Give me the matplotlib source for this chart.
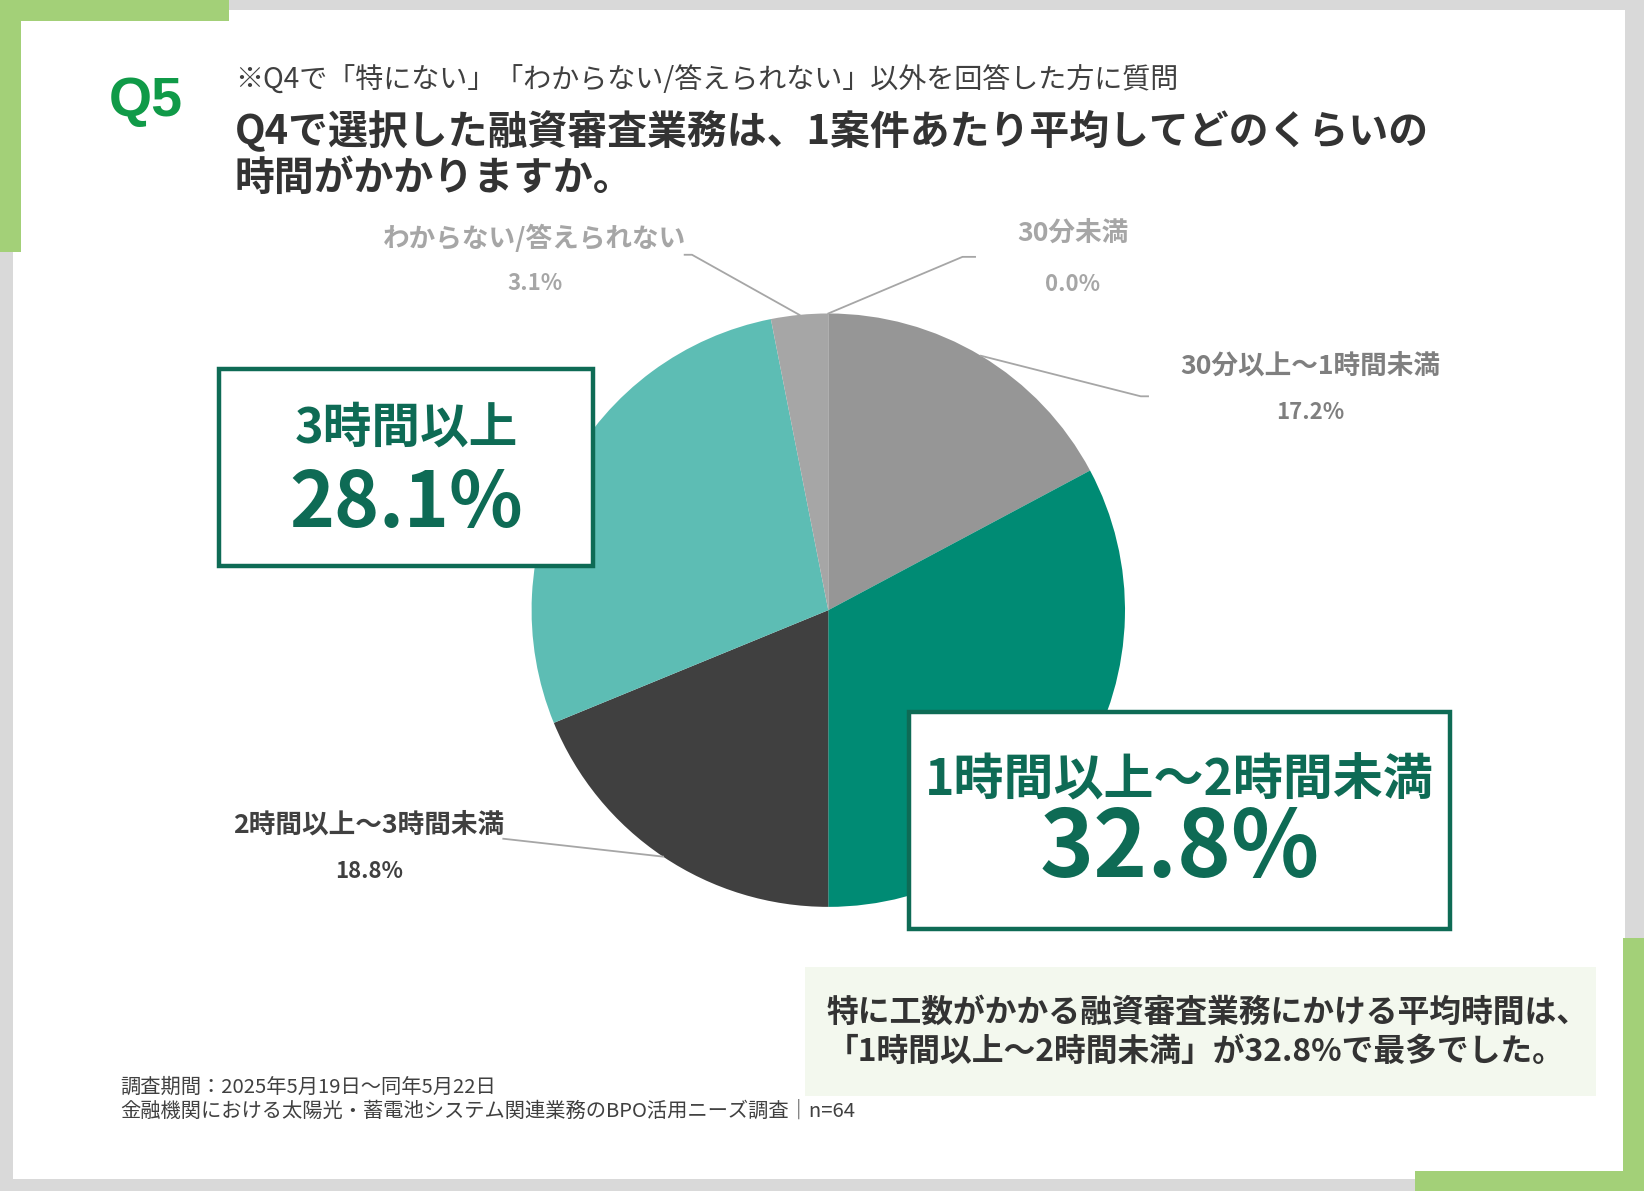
import matplotlib.pyplot as plt
from matplotlib.patches import Rectangle
import numpy as np

plt.rcParams['font.family'] = ['Noto Sans CJK JP', 'DejaVu Sans']

# data
categories = ["30分未満", "30分以上～1時間未満", "1時間以上～2時間未満",
              "2時間以上～3時間未満", "3時間以上", "わからない/答えられない"]
values = [0.0, 17.2, 32.8, 18.8, 28.1, 3.1]
colors = ["#8c8c8c", "#969696", "#008b74", "#404040", "#5dbdb4", "#a6a6a6"]

# layout units: pixels of a 1568x1136 page, y measured from top
W, H = 1568, 1136
GREEN = "#a3d078"
DARK = "#0e6b55"

fig = plt.figure(figsize=(16.44, 11.91), dpi=100)
fig.patch.set_facecolor('#d9d9d9')
ax = fig.add_axes([0, 0, 1, 1])


def rect(x0, y0, x1, y1, **kw):
    ax.add_patch(Rectangle((x0, H - y1), x1 - x0, y1 - y0, **kw))


def txt(x, y, s, **kw):
    ax.text(x, H - y, s, **kw)


# page frame
rect(12, 10, 1550, 1125, fc='white', ec='none', zorder=0)
rect(0, 0, 218, 20, fc=GREEN, ec='none', zorder=1)
rect(0, 0, 20, 240, fc=GREEN, ec='none', zorder=1)
rect(1548, 895, W, H, fc=GREEN, ec='none', zorder=1)
rect(1350, 1117, W, H, fc=GREEN, ec='none', zorder=1)

# header
txt(104, 97, "Q5", family='Liberation Sans', fontsize=40, fontweight='bold',
    color='#109a48', va='center', ha='left')
txt(224, 77, "※Q4で「特にない」「わからない/答えられない」以外を回答した方に質問",
    fontsize=20.2, color='#404040', va='center', ha='left')
txt(224, 125, "Q4で選択した融資審査業務は、1案件あたり平均してどのくらいの",
    fontsize=28.7, fontweight='bold', color='#333333', va='center', ha='left')
txt(224, 170, "時間がかかりますか。",
    fontsize=28.7, fontweight='bold', color='#333333', va='center', ha='left')

# pie
cx, cy, r = 790, 582, 283
wedges, _ = ax.pie(values, colors=colors, startangle=90, counterclock=False,
                   center=(cx, H - cy), radius=r, frame=True,
                   wedgeprops=dict(linewidth=0))


def edge_point(i):
    w = wedges[i]
    a = np.radians((w.theta1 + w.theta2) / 2)
    return cx + r * np.cos(a), (H - cy) + r * np.sin(a)


LINE = dict(color='#a6a6a6', lw=1.3, zorder=3)

# leader lines: slice index -> elbow points (page coords)
leaders = {
    0: [(918, 245), (930, 245)],
    1: [(1088, 378), (1095, 378)],
    3: [(480, 800)],
    5: [(660, 243), (653, 243)],
}
for i, pts in leaders.items():
    x0, y0 = edge_point(i)
    xs = [x0] + [p[0] for p in pts]
    ys = [y0] + [H - p[1] for p in pts]
    ax.plot(xs, ys, **LINE)

# outside labels: index -> (x, y name, y pct, colour)
outside = {
    5: (510, 228, 270, '#a6a6a6'),
    0: (1023, 222, 271, '#a6a6a6'),
    1: (1250, 349, 393, '#7f7f7f'),
    3: (352, 787, 831, '#404040'),
}
for i, (x, yn, yp, c) in outside.items():
    txt(x, yn, categories[i], fontsize=19.2, fontweight='bold', color=c,
        ha='center', va='center')
    txt(x, yp, f"{values[i]:.1f}%", fontsize=16, fontweight='bold', color=c,
        ha='center', va='center')

# highlight boxes
boxes = {
    4: ((209, 352, 566, 540), 408, 481, 35, 55),
    2: ((867, 679, 1383, 886), 745, 811, 36, 66),
}
for i, ((x0, y0, x1, y1), yn, yp, fn, fp) in boxes.items():
    rect(x0, y0, x1, y1, fc='white', ec=DARK, lw=3.2, zorder=4)
    xm = (x0 + x1) / 2
    txt(xm, yn, categories[i], fontsize=fn, fontweight='bold', color=DARK,
        ha='center', va='center', zorder=5)
    txt(xm, yp, f"{values[i]:.1f}%", fontsize=fp, fontweight='bold', color=DARK,
        ha='center', va='center', zorder=5)

# summary
rect(768, 922, 1522, 1045, fc='#f3f8ee', ec='none', zorder=1)
txt(788, 966, "特に工数がかかる融資審査業務にかける平均時間は、",
    fontsize=22.9, fontweight='bold', color='#333333', ha='left', va='center')
txt(788, 1003, f"「{categories[2]}」が{values[2]:.1f}%で最多でした。",
    fontsize=22.9, fontweight='bold', color='#333333', ha='left', va='center')

# footer
txt(115, 1037, "調査期間：2025年5月19日～同年5月22日",
    fontsize=14.6, color='#404040', ha='left', va='center')
txt(115, 1060, "金融機関における太陽光・蓄電池システム関連業務のBPO活用ニーズ調査｜n=64",
    fontsize=14.6, color='#404040', ha='left', va='center')

ax.set_xlim(0, W)
ax.set_ylim(0, H)
ax.set_aspect('equal')
ax.axis('off')

fig.savefig('out.png', dpi=100, facecolor=fig.get_facecolor())
